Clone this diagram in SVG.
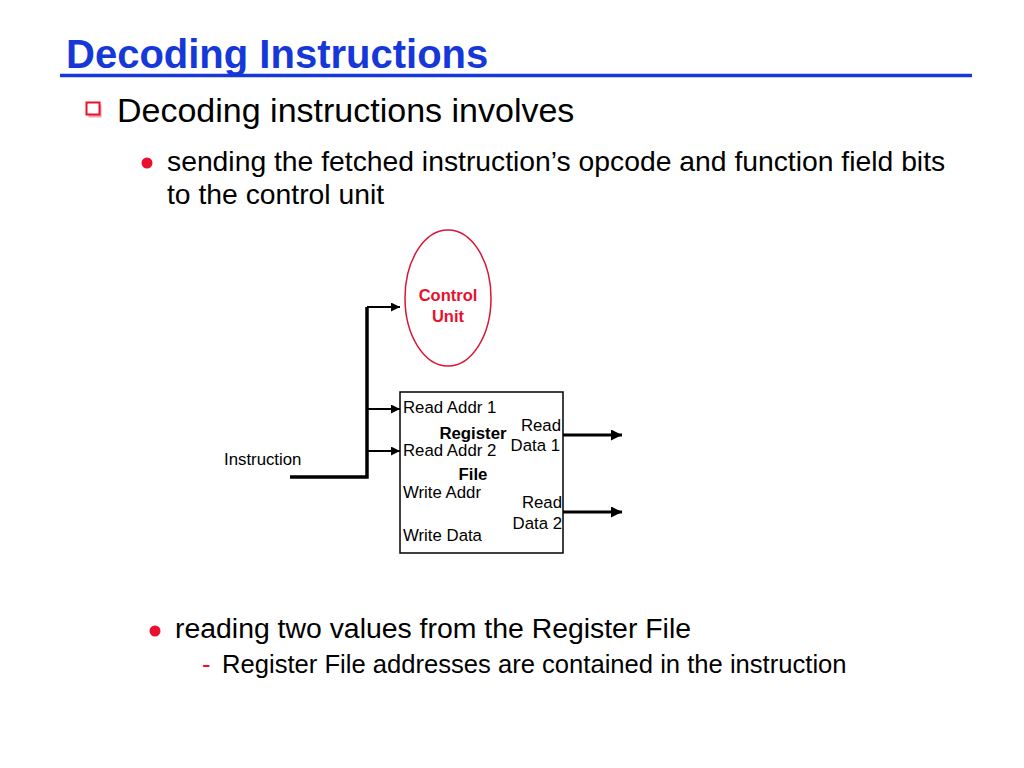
<svg xmlns="http://www.w3.org/2000/svg" width="1024" height="768" viewBox="0 0 1024 768">
<defs>
<style>
.t{font-family:"Liberation Sans",Arial,sans-serif;fill:#000}
.b{font-weight:bold}
.lbl{font-size:16.8px}
.wire{stroke:#000;fill:none}
</style>
<marker id="ah" viewBox="0 0 10 10" refX="10" refY="5" markerWidth="10" markerHeight="9" markerUnits="userSpaceOnUse" orient="auto">
<path d="M0,0 L10,5 L0,10 z" fill="#000"/>
</marker>
<marker id="ahb" viewBox="0 0 10 10" refX="10" refY="5" markerWidth="12" markerHeight="11" markerUnits="userSpaceOnUse" orient="auto">
<path d="M0,0 L10,5 L0,10 z" fill="#000"/>
</marker>
</defs>
<rect width="1024" height="768" fill="#fff"/>
<g id="title">
<text class="t b" x="66" y="68" font-size="40" style="fill:#1638d8">Decoding Instructions</text>
<line x1="60" y1="75.5" x2="972" y2="75.5" stroke="#1638d8" stroke-width="3.5"/>
</g>
<g id="bullets">
<rect x="88.5" y="104.5" width="13" height="13" fill="#f3a0b0"/>
<rect x="86.5" y="102.5" width="13" height="12" fill="#fff" stroke="#e8102e" stroke-width="2"/>
<text class="t" x="117" y="122" font-size="34">Decoding instructions involves</text>
<circle cx="147" cy="163" r="5.5" fill="#e8102e"/>
<text class="t" x="167" y="171" font-size="28.3">sending the fetched instruction’s opcode and function field bits</text>
<text class="t" x="167" y="204" font-size="28.3">to the control unit</text>
<circle cx="155" cy="631" r="5.5" fill="#e8102e"/>
<text class="t" x="175" y="638" font-size="28.4">reading two values from the Register File</text>
<text class="t" x="202" y="673" font-size="25.6" style="fill:#e8102e">-</text>
<text class="t" x="222" y="673" font-size="25.6">Register File addresses are contained in the instruction</text>
</g>
<g id="control-unit">
<ellipse cx="448" cy="298" rx="43" ry="68" fill="#fff" stroke="#d9163a" stroke-width="1.5"/>
<text class="t b" x="448" y="301" font-size="16.5" text-anchor="middle" style="fill:#e8102e">Control</text>
<text class="t b" x="448" y="322" font-size="16.5" text-anchor="middle" style="fill:#e8102e">Unit</text>
</g>
<g id="register-file">
<rect x="400" y="392" width="163" height="161" fill="#fff" stroke="#000" stroke-width="1.5"/>
<text class="t lbl" x="403" y="413">Read Addr 1</text>
<text class="t lbl b" x="473" y="439" text-anchor="middle">Register</text>
<text class="t lbl" x="403" y="456">Read Addr 2</text>
<text class="t lbl b" x="473" y="480" text-anchor="middle">File</text>
<text class="t lbl" x="403" y="498">Write Addr</text>
<text class="t lbl" x="403" y="541">Write Data</text>
<text class="t lbl" x="561" y="431" text-anchor="end">Read</text>
<text class="t lbl" x="560" y="451" text-anchor="end">Data 1</text>
<text class="t lbl" x="562" y="508" text-anchor="end">Read</text>
<text class="t lbl" x="562" y="529" text-anchor="end">Data 2</text>
</g>
<g id="instruction">
<text class="t lbl" x="224" y="465">Instruction</text>
</g>
<g id="connectors">
<polyline class="wire" points="290,477 367,477 367,307" stroke-width="3.5"/>
<line class="wire" x1="367" y1="307" x2="400" y2="307" stroke-width="2" marker-end="url(#ah)"/>
<line class="wire" x1="367" y1="409" x2="400" y2="409" stroke-width="2" marker-end="url(#ah)"/>
<line class="wire" x1="367" y1="451" x2="400" y2="451" stroke-width="2" marker-end="url(#ah)"/>
<line class="wire" x1="563" y1="435" x2="622" y2="435" stroke-width="3" marker-end="url(#ahb)"/>
<line class="wire" x1="563" y1="512" x2="622" y2="512" stroke-width="3" marker-end="url(#ahb)"/>
</g>
</svg>
